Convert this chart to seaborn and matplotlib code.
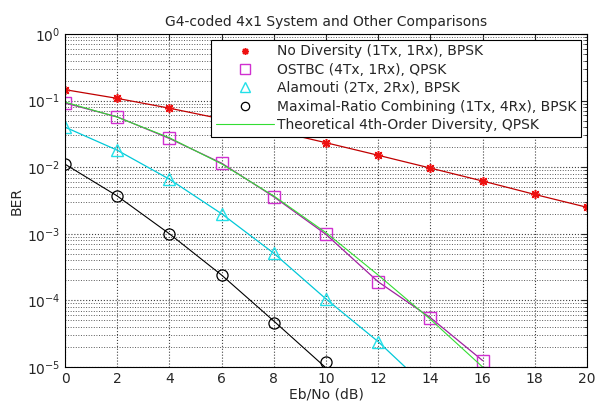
import matplotlib
matplotlib.use("Agg")
import matplotlib.pyplot as plt
import seaborn as sns
import numpy as np
from matplotlib.ticker import LogLocator, NullFormatter, MultipleLocator

# 数据
snr_nodiv = [0, 2, 4, 6, 8, 10, 12, 14, 16, 18, 20]
ber_nodiv = [0.146, 0.108, 0.077, 0.053, 0.0355, 0.0233, 0.0151, 0.0097, 0.0062, 0.0039, 0.0025]

snr_ostbc = [0, 2, 4, 6, 8, 10, 12, 14, 16]
ber_ostbc = [0.092, 0.057, 0.027, 0.0115, 0.0036, 0.00098, 0.00019, 5.5e-5, 1.25e-5]

snr_alam = [0, 2, 4, 6, 8, 10, 12]
ber_alam = [0.040, 0.018, 0.0066, 0.0020, 0.00051, 0.000105, 2.4e-5]
snr_alam_line = [0, 2, 4, 6, 8, 10, 12, 14]
ber_alam_line = [0.040, 0.018, 0.0066, 0.0020, 0.00051, 0.000105, 2.4e-5, 4.4e-6]

snr_mrc = [0, 2, 4, 6, 8, 10]
ber_mrc = [0.0111, 0.0037, 0.00100, 0.00024, 4.6e-5, 1.2e-5]
snr_mrc_line = [0, 2, 4, 6, 8, 10, 12]
ber_mrc_line = [0.0111, 0.0037, 0.00100, 0.00024, 4.9e-5, 9.7e-6, 1.9e-6]

snr_theory = [0, 2, 4, 6, 8, 10, 12, 14, 16]
ber_theory = [0.095, 0.0565, 0.0277, 0.0112, 0.0037, 0.00104, 0.00024, 5.2e-5, 1.0e-5]

labels = ["No Diversity (1Tx, 1Rx), BPSK",
          "OSTBC (4Tx, 1Rx), QPSK",
          "Alamouti (2Tx, 2Rx), BPSK",
          "Maximal-Ratio Combining (1Tx, 4Rx), BPSK",
          "Theoretical 4th-Order Diversity, QPSK"]

sns.set_style("white")
plt.rcParams['font.family'] = ['DejaVu Sans']

fig = plt.figure(figsize=(5.95, 4.03), dpi=100)
ax = fig.add_axes([65 / 595, 1 - 367 / 403, 522 / 595, 333 / 403])

# 曲线 (理论曲线, 不进图例)
sns.lineplot(x=snr_nodiv, y=ber_nodiv, color="#c00000", lw=0.9, ax=ax)
sns.lineplot(x=snr_ostbc, y=ber_ostbc, color="#a020a0", lw=0.9, ax=ax)
sns.lineplot(x=snr_alam_line, y=ber_alam_line, color="#00c8d8", lw=0.9, ax=ax)
sns.lineplot(x=snr_mrc_line, y=ber_mrc_line, color="black", lw=0.8, ax=ax)

# 仿真点
ax.plot(snr_nodiv, ber_nodiv, linestyle="none", marker=(8, 2, 0), markersize=6.5,
        color="#ee1111", mew=1.1, label=labels[0])
ax.plot(snr_ostbc, ber_ostbc, linestyle="none", marker="s", markersize=9,
        mfc="none", mec="#d030d0", mew=1.0, label=labels[1])
ax.plot(snr_alam, ber_alam, linestyle="none", marker="^", markersize=9,
        mfc="none", mec="#22e0e8", mew=1.0, label=labels[2])
ax.plot(snr_mrc, ber_mrc, linestyle="none", marker="o", markersize=8,
        mfc="none", mec="black", mew=0.9, label=labels[3])
sns.lineplot(x=snr_theory, y=ber_theory, color="#33dd33", lw=0.8, label=labels[4], ax=ax)

ax.set_yscale("log")
ax.set_xlim(0, 20)
ax.set_ylim(1e-5, 1)
ax.xaxis.set_major_locator(MultipleLocator(2))
ax.yaxis.set_major_locator(LogLocator(base=10, numticks=10))
ax.yaxis.set_minor_locator(LogLocator(base=10, subs=np.arange(2, 10), numticks=20))
ax.yaxis.set_minor_formatter(NullFormatter())

ax.grid(True, which="major", linestyle=":", color="0.25", lw=0.8)
ax.grid(True, which="minor", axis="y", linestyle=":", color="0.35", lw=0.7)
ax.tick_params(which="both", direction="in", top=True, right=True, labelsize=10, colors="0.15")
ax.tick_params(which="major", length=4)
ax.tick_params(which="minor", length=2)
for s in ax.spines.values():
    s.set_color("black")
    s.set_linewidth(0.8)

ax.set_title("G4-coded 4x1 System and Other Comparisons", fontsize=10, pad=6, color="0.15")
ax.set_xlabel("Eb/No (dB)", fontsize=10, labelpad=1, color="0.15")
ax.set_ylabel("BER", fontsize=10, labelpad=2, color="0.15")

leg = ax.legend(loc="upper right", bbox_to_anchor=(0.988, 0.982), fontsize=10,
                frameon=True, fancybox=False, edgecolor="black", framealpha=1,
                handlelength=4.2, labelspacing=0.32, borderpad=0.32, handletextpad=0.2,
                borderaxespad=0, markerscale=0.75)
leg.get_frame().set_linewidth(0.8)

fig.savefig("out.png", dpi=100)
